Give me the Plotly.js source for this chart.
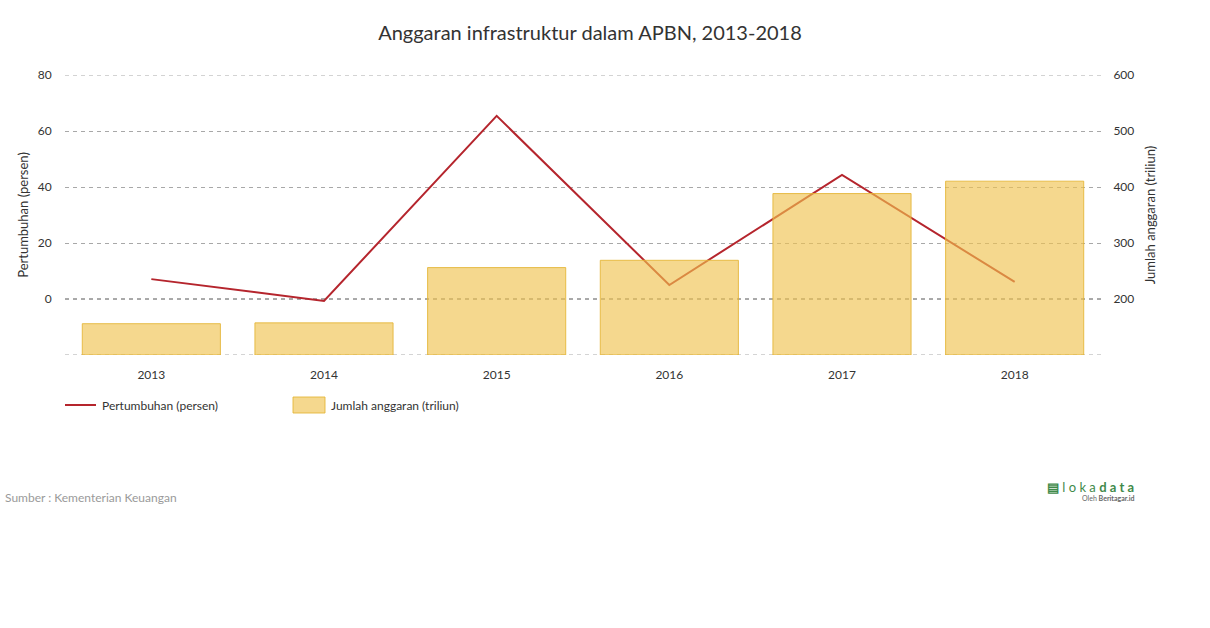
<!DOCTYPE html>
<html>
<head>
<meta charset="utf-8">
<script src="https://cdn.plot.ly/plotly-3.0.1.min.js"></script>
<style>html,body{margin:0;padding:0;background:#fff;}#chart{width:1210px;height:628px;}</style>
</head>
<body>
<div id="chart"></div>
<script>
const years = ['2013', '2014', '2015', '2016', '2017', '2018'];
const growth = [7.1, -0.7, 65.4, 5.0, 44.3, 6.1];
const budget = [155.9, 157.4, 256.1, 269.1, 388.3, 410.4];
const leftTicks = [-20, 0, 20, 40, 60, 80];
const leftTickText = ['', '0', '20', '40', '60', '80'];
const rightTicks = [100, 200, 300, 400, 500, 600];
const rightTickText = ['', '200', '300', '400', '500', '600'];
const seriesNames = ['Pertumbuhan (persen)', 'Jumlah anggaran (triliun)'];

const FONT = 'Lato, "Open Sans", sans-serif';
const LINE_COLOR = '#b5252d';
const BAR_FILL = 'rgba(240,194,78,0.64)';
const BAR_EDGE = 'rgba(228,180,50,0.85)';
const DASH = '4px,4px';

// pixel helpers for legend placement (plot area: x 65..1101, y 75..355)
const PL = 65, PR = 1101, PT = 75, PB = 355;
const px = x => (x - PL) / (PR - PL);
const py = y => (PB - y) / (PB - PT);

const traces = [
  {
    type: 'scatter', mode: 'lines', name: seriesNames[0],
    x: years, y: growth, yaxis: 'y',
    line: {color: LINE_COLOR, width: 2},
    showlegend: false, hoverinfo: 'x+y'
  },
  {
    type: 'bar', name: seriesNames[1],
    x: years, y: budget.map(v => v - 100), base: 100, yaxis: 'y2',
    marker: {color: BAR_FILL, line: {color: BAR_EDGE, width: 1}},
    showlegend: false, hoverinfo: 'x'
  }
];

const gridStyle = {color: '#a8a8a8', width: 1, dash: DASH};

const layout = {
  width: 1210, height: 628,
  margin: {l: PL, r: 1210 - PR, t: PT, b: 628 - PB},
  paper_bgcolor: '#fff', plot_bgcolor: '#fff',
  font: {family: FONT, size: 12, color: '#333'},
  title: {text: 'Anggaran infrastruktur dalam APBN, 2013-2018', font: {family: FONT, size: 20, color: '#333'},
          x: 0.4876, xref: 'container', y: 0.947, yref: 'container', yanchor: 'middle'},
  showlegend: false,
  bargap: 0.2,
  xaxis: {
    type: 'category', showgrid: false, zeroline: false, showline: false,
    ticks: 'outside', ticklen: 9, tickcolor: 'rgba(0,0,0,0)',
    tickfont: {family: FONT, size: 12, color: '#333'}, fixedrange: true
  },
  yaxis: {
    range: [-20, 80], tickvals: leftTicks, ticktext: leftTickText,
    showgrid: true, gridcolor: '#a8a8a8', griddash: DASH, gridwidth: 1,
    zeroline: false, showline: false,
    ticks: 'outside', ticklen: 10, tickcolor: 'rgba(0,0,0,0)',
    tickfont: {family: FONT, size: 12, color: '#333'},
    title: {text: 'Pertumbuhan (persen)', font: {family: FONT, size: 13, color: '#333'}, standoff: 6},
    fixedrange: true
  },
  yaxis2: {
    range: [100, 600], tickvals: rightTicks, ticktext: rightTickText,
    overlaying: 'y', side: 'right', showgrid: false, zeroline: false, showline: false,
    ticks: 'outside', ticklen: 9, tickcolor: 'rgba(0,0,0,0)',
    tickfont: {family: FONT, size: 12, color: '#333'},
    title: {text: 'Jumlah anggaran (triliun)', font: {family: FONT, size: 13, color: '#333'}, standoff: 12},
    fixedrange: true
  },
  shapes: [
    // dashed gridlines at the range edges (Plotly hides grid at the plot boundary)
    {type: 'line', xref: 'paper', yref: 'y', x0: 0, x1: 1, y0: leftTicks[leftTicks.length - 1], y1: leftTicks[leftTicks.length - 1], line: gridStyle, layer: 'below'},
    {type: 'line', xref: 'paper', yref: 'y', x0: 0, x1: 1, y0: leftTicks[0], y1: leftTicks[0], line: gridStyle, layer: 'below'},
    // darker dashed baseline at 0
    {type: 'line', xref: 'paper', yref: 'y', x0: 0, x1: 1, y0: 0, y1: 0,
     line: {color: '#555', width: 1, dash: DASH}, layer: 'below'},
    // legend symbols
    {type: 'line', xref: 'paper', yref: 'paper', x0: px(65), x1: px(96), y0: py(405), y1: py(405),
     line: {color: LINE_COLOR, width: 2}},
    {type: 'rect', xref: 'paper', yref: 'paper', x0: px(293), x1: px(325), y0: py(397), y1: py(413),
     fillcolor: BAR_FILL, line: {color: BAR_EDGE, width: 1}}
  ],
  annotations: [
    {text: seriesNames[0], xref: 'paper', yref: 'paper', x: px(100), y: py(405),
     xanchor: 'left', yanchor: 'middle', showarrow: false, font: {family: FONT, size: 12, color: '#333'}},
    {text: seriesNames[1], xref: 'paper', yref: 'paper', x: px(329), y: py(405),
     xanchor: 'left', yanchor: 'middle', showarrow: false, font: {family: FONT, size: 12, color: '#333'}},
    {text: 'Sumber : Kementerian Keuangan', xref: 'paper', yref: 'paper', x: px(3), y: py(497),
     xanchor: 'left', yanchor: 'middle', showarrow: false, font: {family: FONT, size: 12, color: '#9a9a9a'}},
    {text: '<b>▤</b> l o k a <b>d a t a</b>', xref: 'paper', yref: 'paper', x: px(1136), y: py(487),
     xanchor: 'right', yanchor: 'middle', showarrow: false, font: {family: FONT, size: 13, color: '#3f8a4a'}},
    {text: 'Oleh <b>Beritagar.id</b>', xref: 'paper', yref: 'paper', x: px(1136), y: py(498),
     xanchor: 'right', yanchor: 'middle', showarrow: false, font: {family: FONT, size: 7, color: '#666'}}
  ]
};

Plotly.newPlot('chart', traces, layout, {displayModeBar: false});
</script>
</body>
</html>
